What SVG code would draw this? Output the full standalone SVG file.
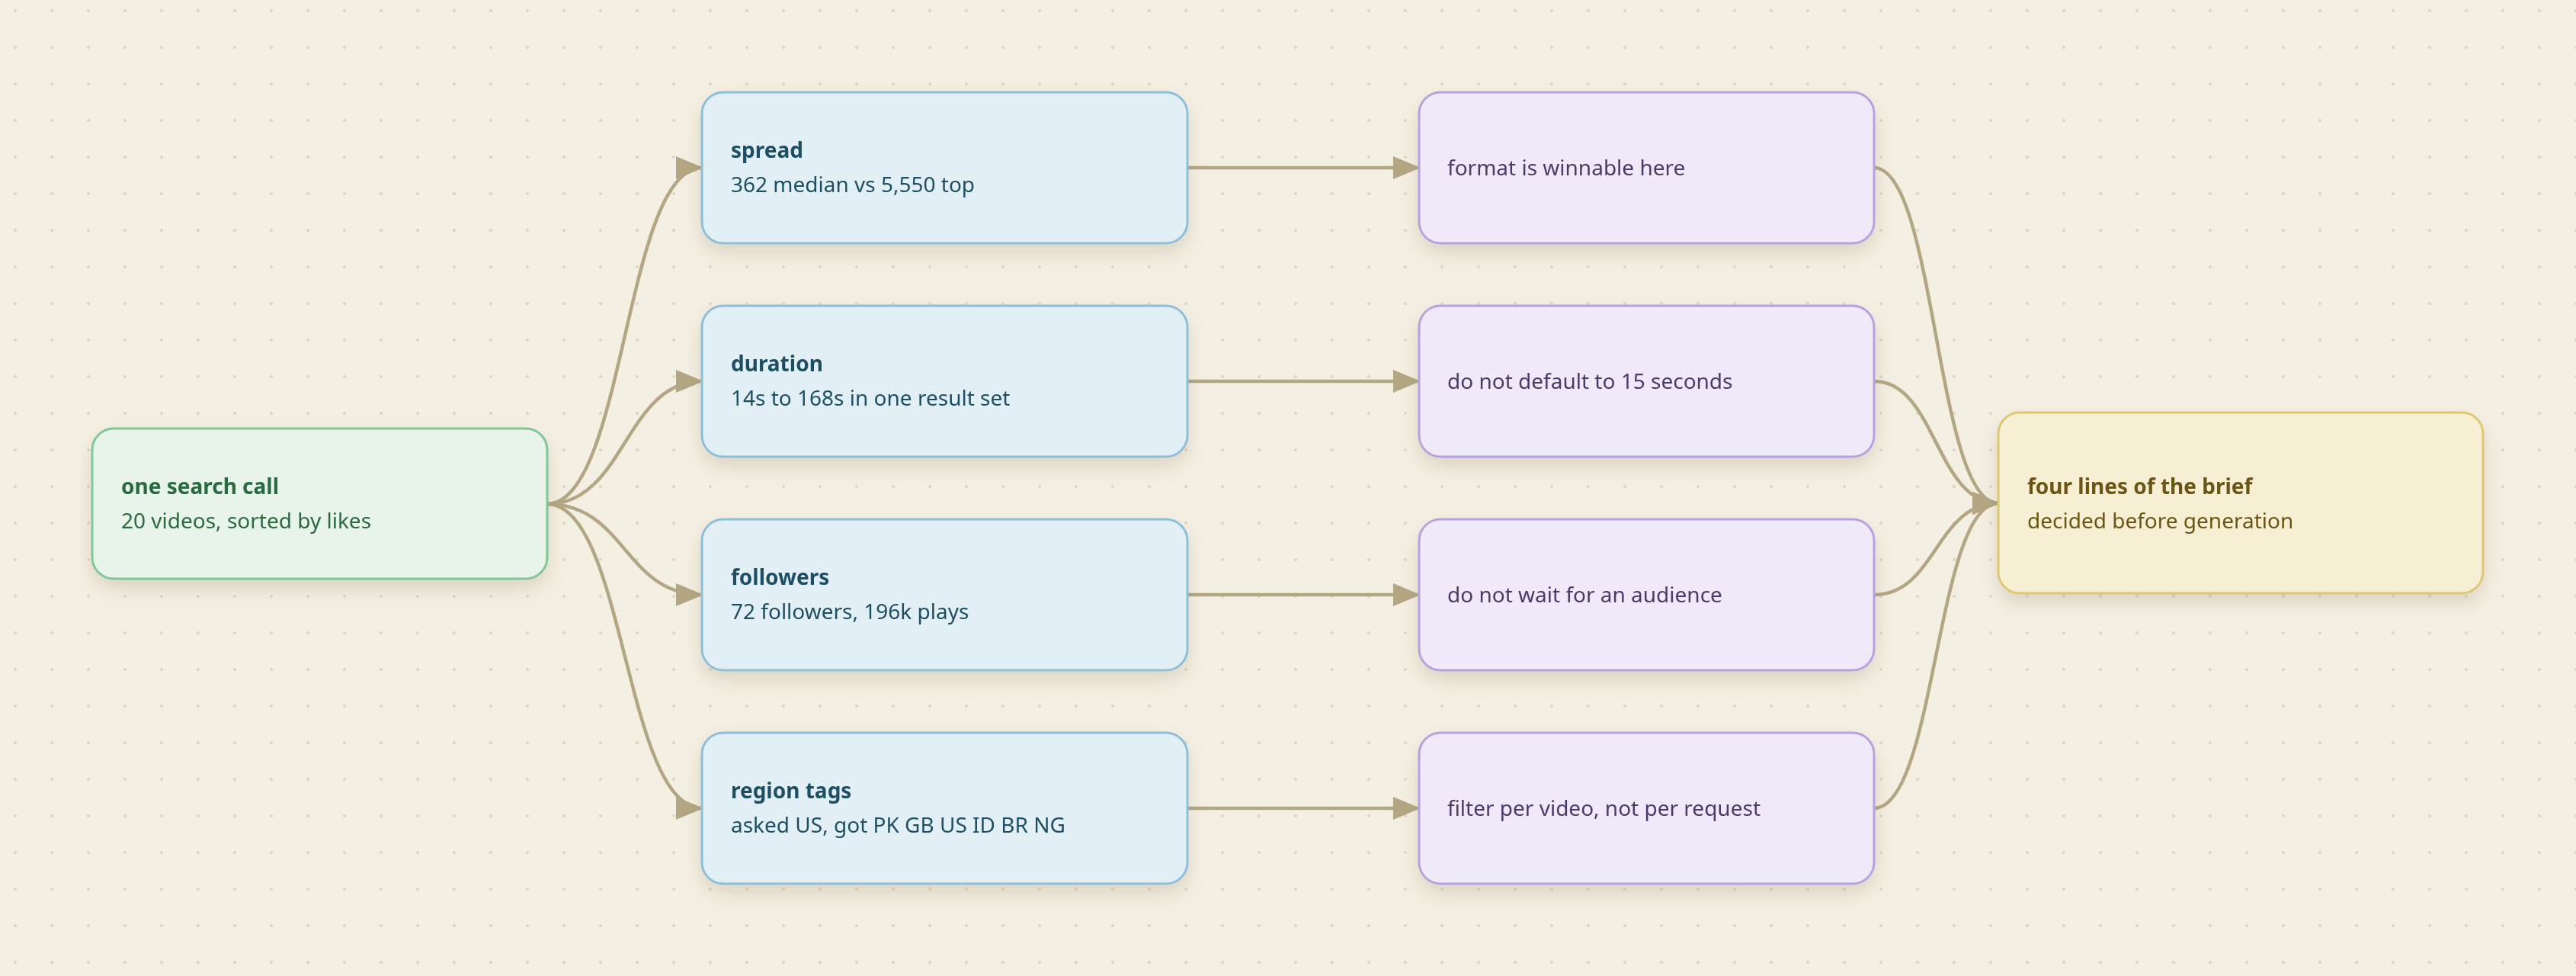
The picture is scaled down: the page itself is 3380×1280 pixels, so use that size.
<svg xmlns="http://www.w3.org/2000/svg" width="3380" height="1280" viewBox="0 0 3380 1280">
<defs>
<pattern id="dots" width="48" height="48" patternUnits="userSpaceOnUse" x="18" y="12"><circle cx="2" cy="2" r="2" fill="#ddd5c3"/></pattern>
<filter id="sh" x="-20%" y="-30%" width="140%" height="170%"><feDropShadow dx="0" dy="12" stdDeviation="12" flood-color="#8a7a55" flood-opacity="0.22"/></filter>
<marker id="ah" viewBox="0 0 10 10" refX="9" refY="5" markerWidth="9" markerHeight="9" markerUnits="userSpaceOnUse" orient="auto" overflow="visible"><path d="M-28,-11 L8,5 L-28,21 Z" transform="translate(0,0) scale(1)" fill="#b3a683"/></marker>
<marker id="a" viewBox="0 0 36 30" refX="34" refY="15" markerWidth="36" markerHeight="30" markerUnits="userSpaceOnUse" orient="auto"><path d="M0,0 L36,15 L0,30 Z" fill="#b3a683"/></marker>
<style>
.t{font-family:"Noto Sans","Open Sans",sans-serif;font-size:28px;font-weight:700}
.s{font-family:"Noto Sans","Open Sans",sans-serif;font-size:28px}
.e{fill:none;stroke:#b3a683;stroke-width:4.5}
.g rect{fill:#e8f4e9;stroke:#7fc796;stroke-width:3}.g text{fill:#2a6a3f}
.b rect{fill:#e2f0f6;stroke:#8fbfd8;stroke-width:3}.b text{fill:#1f4f63}
.p rect{fill:#efe9fa;stroke:#b5a2e0;stroke-width:3}.p text{fill:#4a3a6a}
.y rect{fill:#f7efd3;stroke:#dcc872;stroke-width:3}.y text{fill:#6b5512}
</style>
</defs>
<rect width="3380" height="1280" fill="#f4efe3"/>
<rect width="3380" height="1280" fill="url(#dots)"/>
<g id="connectors">
<path class="e" marker-end="url(#a)" d="M718,661 C820,661 820,220 921,220"/>
<path class="e" marker-end="url(#a)" d="M718,661 C820,661 820,500 921,500"/>
<path class="e" marker-end="url(#a)" d="M718,661 C820,661 820,780 921,780"/>
<path class="e" marker-end="url(#a)" d="M718,661 C820,661 820,1060 921,1060"/>
<path class="e" marker-end="url(#a)" d="M1558,220 L1862,220"/>
<path class="e" marker-end="url(#a)" d="M1558,500 L1862,500"/>
<path class="e" marker-end="url(#a)" d="M1558,780 L1862,780"/>
<path class="e" marker-end="url(#a)" d="M1558,1060 L1862,1060"/>
<path class="e" marker-end="url(#a)" d="M2459,220 C2540,220 2540,660 2622,660"/>
<path class="e" marker-end="url(#a)" d="M2459,500 C2540,500 2540,660 2622,660"/>
<path class="e" marker-end="url(#a)" d="M2459,780 C2540,780 2540,660 2622,660"/>
<path class="e" marker-end="url(#a)" d="M2459,1060 C2540,1060 2540,660 2622,660"/>
</g>
<g id="n-source" class="g" filter="url(#sh)"><rect x="121" y="562" width="597" height="197" rx="28"/><text class="t" x="159" y="648">one search call</text><text class="s" x="159" y="693">20 videos, sorted by likes</text></g>
<g id="n-spread" class="b" filter="url(#sh)"><rect x="921" y="121" width="637" height="198" rx="28"/><text class="t" x="959" y="207">spread</text><text class="s" x="959" y="252">362 median vs 5,550 top</text></g>
<g id="n-duration" class="b" filter="url(#sh)"><rect x="921" y="401" width="637" height="198" rx="28"/><text class="t" x="959" y="487">duration</text><text class="s" x="959" y="532">14s to 168s in one result set</text></g>
<g id="n-followers" class="b" filter="url(#sh)"><rect x="921" y="681" width="637" height="198" rx="28"/><text class="t" x="959" y="767">followers</text><text class="s" x="959" y="812">72 followers, 196k plays</text></g>
<g id="n-region" class="b" filter="url(#sh)"><rect x="921" y="961" width="637" height="198" rx="28"/><text class="t" x="959" y="1047">region tags</text><text class="s" x="959" y="1092">asked US, got PK GB US ID BR NG</text></g>
<g id="n-winnable" class="p" filter="url(#sh)"><rect x="1862" y="121" width="597" height="198" rx="28"/><text class="s" x="1899" y="230">format is winnable here</text></g>
<g id="n-default" class="p" filter="url(#sh)"><rect x="1862" y="401" width="597" height="198" rx="28"/><text class="s" x="1899" y="510">do not default to 15 seconds</text></g>
<g id="n-wait" class="p" filter="url(#sh)"><rect x="1862" y="681" width="597" height="198" rx="28"/><text class="s" x="1899" y="790">do not wait for an audience</text></g>
<g id="n-filter" class="p" filter="url(#sh)"><rect x="1862" y="961" width="597" height="198" rx="28"/><text class="s" x="1899" y="1070">filter per video, not per request</text></g>
<g id="n-brief" class="y" filter="url(#sh)"><rect x="2622" y="541" width="636" height="237" rx="28"/><text class="t" x="2660" y="648">four lines of the brief</text><text class="s" x="2660" y="693">decided before generation</text></g>
</svg>
